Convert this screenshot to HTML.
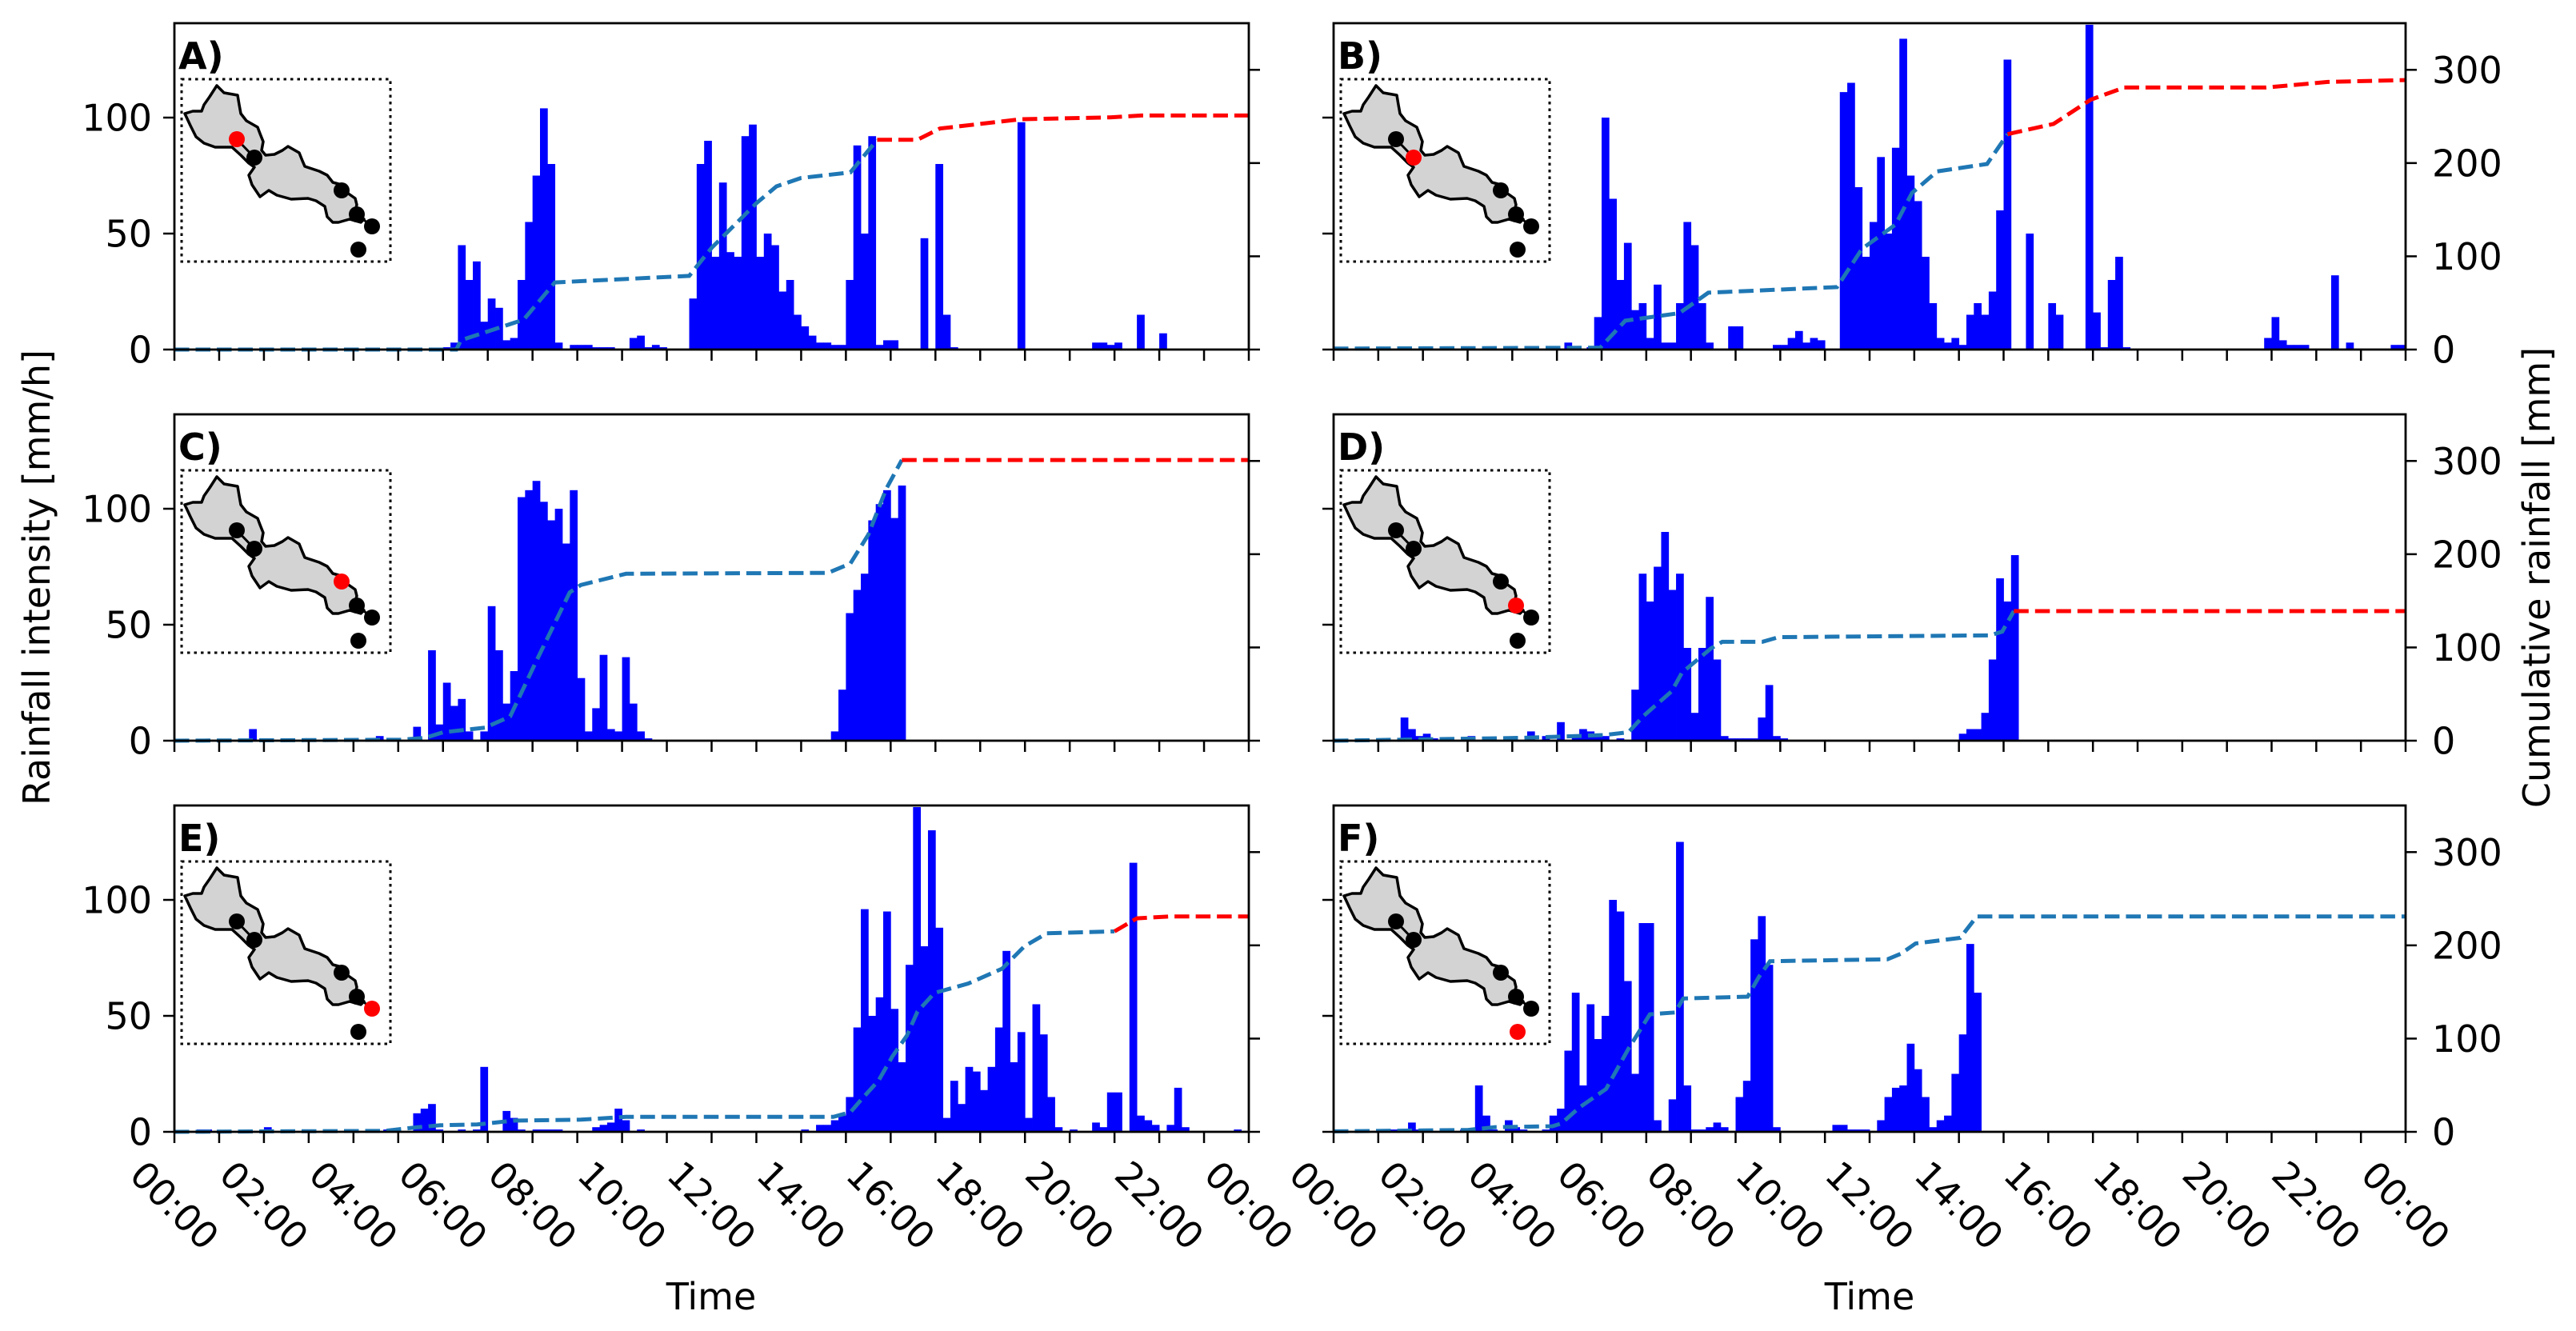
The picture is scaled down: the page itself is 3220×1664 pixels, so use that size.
<!DOCTYPE html>
<html><head><meta charset="utf-8"><title>Rainfall panels</title>
<style>
html,body{margin:0;padding:0;background:#fff;}
svg{display:block;font-family:"DejaVu Sans","Liberation Sans",sans-serif;}
</style></head>
<body>
<svg id="fig" xmlns="http://www.w3.org/2000/svg" width="3220" height="1664" viewBox="0 0 3220 1664">
<rect x="0" y="0" width="3220" height="1664" fill="#fff"/>
<text x="0" y="0" font-size="46" text-anchor="middle" transform="translate(62,722) rotate(-90)">Rainfall intensity [mm/h]</text>
<text x="0" y="0" font-size="46" text-anchor="middle" transform="translate(3187,722) rotate(-90)">Cumulative rainfall [mm]</text>
<text x="889" y="1637" font-size="46" text-anchor="middle">Time</text>
<text x="2337" y="1637" font-size="46" text-anchor="middle">Time</text>
</svg>
<script>
// ---- data: 10-minute rainfall intensity bins (mm/h), 144 per panel ----
const barsA = [
0,0,0,0,0,0, 0,0,0,0,0,0, 0,0,0,0,0,0, 0,0,0,0,0,0, 0,0,0,0,0,0, 0,0,0,0,0,0,
1,3,45,30,38,12, 22,18,4,5,30,55, 75,104,80,3,0,2, 2,2,1,1,1,0, 0,5,6,1,2,1, 0,0,0,22,80,90,
40,72,42,40,92,97, 40,50,45,25,30,15, 10,6,3,3,2,2, 30,88,50,92,2,4, 4,0,0,0,48,0, 80,15,1,0,0,0,
0,0,0,0,0,98, 0,0,0,0,0,0, 0,0,0,3,3,2, 3,0,0,15,0,0, 7,0,0,0,0,0, 0,0,0,0,0,0];
const barsB = [
0,0,0,0,0,0, 0,0,0,0,0,0, 0,0,0,0,0,0, 0,0,0,0,0,0, 0,0,0,0,0,0, 0,3,0,0,1,14,
100,65,30,46,17,20, 5,28,3,3,20,55, 45,20,3,0,0,10, 10,0,0,0,0,2, 2,5,8,3,5,4, 0,0,111,115,70,40,
55,83,50,87,134,75, 64,40,20,5,3,5, 2,15,20,15,25,60, 125,0,0,50,0,0, 20,15,0,0,0,140, 16,1,30,40,1,0,
0,0,0,0,0,0, 0,0,0,0,0,0, 0,0,0,0,0,5, 14,4,2,2,2,0, 0,0,32,0,3,0, 0,0,0,0,2,2];
const barsC = [
0,0,0,0,0,0, 0,0,0,0,5,0, 0,0,0,0,0,0, 0,0,0,0,0,0, 0,0,0,2,0,0, 0,0,6,0,39,7,
25,15,18,4,0,4, 58,39,16,30,105,108, 112,103,95,100,85,108, 27,4,14,37,5,4, 36,16,4,1,0,0, 0,0,0,0,0,0,
0,0,0,0,0,0, 0,0,0,0,0,0, 0,0,0,0,4,22, 55,65,72,95,102,108, 96,110,0,0,0,0, 0,0,0,0,0,0,
0,0,0,0,0,0, 0,0,0,0,0,0, 0,0,0,0,0,0, 0,0,0,0,0,0, 0,0,0,0,0,0, 0,0,0,0,0,0];
const barsD = [
0,0,0,0,0,0, 0,0,0,10,5,2, 3,1,0,0,0,0, 2,0,0,0,0,0, 0,0,4,0,2,0, 8,0,2,5,4,3,
2,0,1,0,22,72, 60,75,90,65,72,40, 12,40,62,35,2,1, 1,1,1,10,24,2, 1,0,0,0,0,0, 0,0,0,0,0,0,
0,0,0,0,0,0, 0,0,0,0,0,0, 3,5,5,12,35,70, 60,80,0,0,0,0, 0,0,0,0,0,0, 0,0,0,0,0,0,
0,0,0,0,0,0, 0,0,0,0,0,0, 0,0,0,0,0,0, 0,0,0,0,0,0, 0,0,0,0,0,0, 0,0,0,0,0,0];
const barsE = [
0,0,0,1,1,0, 0,0,0,0,0,0, 2,0,0,0,0,0, 0,0,0,0,0,0, 0,0,0,0,1,1, 0,0,8,10,12,1,
0,0,1,0,1,28, 0,0,9,6,1,0, 1,1,1,1,0,0, 0,0,2,3,4,10, 5,0,1,0,0,0, 0,0,0,0,0,0,
0,0,0,0,0,0, 0,0,0,0,0,0, 1,0,3,3,5,7, 15,45,96,50,58,95, 53,30,72,140,80,130, 88,6,22,12,28,26,
18,28,45,78,30,43, 6,55,42,15,2,0, 1,0,0,4,2,17, 17,0,116,7,5,3, 0,3,19,2,0,0, 0,0,0,0,1,0];
const barsF = [
1,0,0,0,0,0, 0,1,1,1,4,1, 0,0,0,0,0,1, 0,20,7,1,0,5, 2,1,0,0,1,7, 10,35,60,20,55,40,
50,100,95,65,25,90, 90,5,0,14,125,20, 1,1,2,4,2,0, 15,22,83,93,72,2, 0,0,0,0,0,0, 0,3,3,1,1,1,
0,5,15,19,20,38, 27,15,2,5,7,25, 42,81,60,0,0,0, 0,0,0,0,0,0, 0,0,0,0,0,0, 0,0,0,0,0,0,
0,0,0,0,0,0, 0,0,0,0,0,0, 0,0,0,0,0,0, 0,0,0,0,0,0, 0,0,0,0,0,0, 0,0,0,0,0,0];

// ---- cumulative rainfall (hour, mm) ----
const cumTA = [0,6.3,6.4,7.8,8.5,11.5,12.0,13.0,13.45,14.0,15.1,15.7,16.6,17.1,18.9,20.9,21.6,24];
const cumVA = [0,0,10,32,72,79,109,157,175,184,190,225,225,237,247,249,251,251];
const cumTB = [0,5.97,6.53,7.74,8.39,11.27,11.83,12.58,12.95,13.51,14.63,15.09,16.12,16.95,17.7,20.87,22.26,24];
const cumVB = [1,2,31,39,61,67,108,134,168,191,199,231,242,268,281,281,287,289];
const cumTC = [0,5.06,5.6,6.0,6.94,7.5,8.07,8.83,9.08,10.09,14.6,15.1,15.5,15.9,16.25,24];
const cumVC = [0,1,3,9,14,26,84,159,167,179,180,190,221,270,301,301];
const cumTD = [0,4.2,6.05,6.6,6.95,7.57,7.8,8.45,8.7,9.6,9.96,14.7,14.97,15.23,24];
const cumVD = [0,3,6,9,27,53,73,99,106,106,111,113,117,139,139];
const cumTE = [0,4.7,5.44,5.94,6.76,7.0,7.57,9.08,10.08,14.72,15.1,15.35,15.73,16.04,16.36,16.6,16.98,17.73,18.49,18.99,19.49,21.0,21.5,22.25,24];
const cumVE = [0,1,5,7,8,9,12,13,16,16,21,35,55,81,103,129,149,159,175,199,213,215,229,231,231];
const cumTF = [0,3,3.6,4.9,5.1,5.5,6.1,6.6,7.08,7.64,7.83,9.27,9.52,9.77,12.4,12.7,13.03,14.03,14.4,24];
const cumVF = [0.5,2,5,6,9,26,46,89,126,128,143,145,166,183,185,191,202,208,231,231];
const redFrom = [15.7, 15.09, 16.25, 15.23, 21.0, 99];
const redStation = [0,1,2,3,4,5];
const panelLetters = ['A)','B)','C)','D)','E)','F)'];
const leftTicks = [0,50,100];
const rightTicks = [0,100,200,300];
const hourTicks = [0,1,2,3,4,5,6,7,8,9,10,11,12,13,14,15,16,17,18,19,20,21,22,23,24];
const timeLabels = ['00:00','02:00','04:00','06:00','08:00','10:00','12:00','14:00','16:00','18:00','20:00','22:00','00:00'];

const allBars = [barsA,barsB,barsC,barsD,barsE,barsF];
const allCumT = [cumTA,cumTB,cumTC,cumTD,cumTE,cumTF];
const allCumV = [cumVA,cumVB,cumVC,cumVD,cumVE,cumVF];

// layout
const colX = [[218,1561],[1667,3007]];
const rowY = [29,518,1007];
const H = 408, YMAXL = 140.7, YMAXR = 350;
const NS = 'http://www.w3.org/2000/svg';
const svg = document.getElementById('fig');
function mk(tag, attrs, parent){
  const e = document.createElementNS(NS, tag);
  for (const k in attrs) e.setAttribute(k, attrs[k]);
  (parent||svg).appendChild(e);
  return e;
}
// inset geometry (relative to inset box)
const basin = [[44,8],[53,17],[70,20],[72,32],[74,43],[81,52],[95,60],[98,68],[102,78],[100,89],[105,95],[116,94],[126,89],[133,84],[147,92],[151,102],[154,109],[172,115],[182,120],[189,129],[200,132],[207,142],[217,149],[219,157],[217,165],[228,175],[224,179],[210,175],[196,179],[189,179],[182,172],[179,159],[168,152],[158,149],[137,150],[119,145],[109,139],[98,147],[88,132],[84,120],[91,110],[84,105],[74,95],[63,85],[42,85],[28,80],[18,72],[11,58],[4,43],[14,40],[25,40],[28,32],[35,22]];
const stations = [[69,75],[91,98],[200,139],[219,169],[238,184],[221,213]];

for (let p=0;p<6;p++){
  const col = p%2, row = Math.floor(p/2);
  const x0 = colX[col][0], x1 = colX[col][1];
  const top = rowY[row], bot = top + H;
  const xs = h => x0 + h/24*(x1-x0);
  const yL = v => bot - v/YMAXL*H;
  const yR = v => bot - v/YMAXR*H;
  const g = mk('g', {});
  
  
  const cid = 'clip'+p;
  const cp = mk('clipPath', {id:cid}, g);
  mk('rect', {x:x0, y:top, width:x1-x0, height:H}, cp);
  // bars
  const bg = mk('g', {'clip-path':'url(#'+cid+')'}, g);
  const bars = allBars[p];
  for (let i=0;i<bars.length;i++){
    if (bars[i] <= 0) continue;
    const xa = xs(i/6), xb = xs((i+1)/6);
    const r = mk('rect', {x:xa, y:yL(bars[i]), width:(xb-xa)+0.4, height:bot-yL(bars[i]), fill:'#0000ff'}, bg);
    
    
  }
  // cumulative line
  const T = allCumT[p], V = allCumV[p], sp = redFrom[p];
  let blue = [], red = [];
  for (let i=0;i<T.length;i++){
    const pt = xs(T[i]).toFixed(1)+','+yR(V[i]).toFixed(1);
    if (T[i] <= sp) blue.push(pt);
    if (T[i] >= sp) red.push(pt);
  }
  const bl = mk('polyline', {points:blue.join(' '), fill:'none', stroke:'#1f77b4', 'stroke-width':5, 'stroke-dasharray':'18.5 8'}, g);
  
  
  if (red.length>1){
    const rl = mk('polyline', {points:red.join(' '), fill:'none', stroke:'#ff0000', 'stroke-width':5, 'stroke-dasharray':'18.5 8'}, g);
    
    
  }
  // spines
  const sp_ = mk('rect', {x:x0, y:top, width:x1-x0, height:H, fill:'none', stroke:'#000', 'stroke-width':2.8}, g);
  
  
  // x ticks
  for (const h of hourTicks){
    const t = mk('line', {x1:xs(h), x2:xs(h), y1:bot, y2:bot+14, stroke:'#000', 'stroke-width':2.5}, g);
    
    
  }
  if (row===2){
    for (let k=0;k<timeLabels.length;k++){
      const tx = mk('text', {x:0, y:0, 'font-size':46, 'text-anchor':'middle', 'dominant-baseline':'central', transform:'translate('+xs(k*2).toFixed(1)+',1507) rotate(45)'}, g);
      
      
      tx.textContent = timeLabels[k];
    }
  }
  // left ticks
  for (const v of leftTicks){
    const t = mk('line', {x1:x0-14, x2:x0, y1:yL(v), y2:yL(v), stroke:'#000', 'stroke-width':2.5}, g);
    
    
    if (col===0){
      const tx = mk('text', {x:x0-28, y:yL(v)+16.5, 'font-size':46, 'text-anchor':'end'}, g);
      
      
      tx.textContent = v;
    }
  }
  // right ticks
  for (const v of rightTicks){
    const t = mk('line', {x1:x1, x2:x1+14, y1:yR(v), y2:yR(v), stroke:'#000', 'stroke-width':2.5}, g);
    
    
    if (col===1){
      const tx = mk('text', {x:x1+33, y:yR(v)+16.5, 'font-size':46, 'text-anchor':'start'}, g);
      
      
      tx.textContent = v;
    }
  }
  // panel letter
  const pl = mk('text', {x:x0+5, y:top+57, 'font-size':46, 'font-weight':'bold'}, g);
  
  
  pl.textContent = panelLetters[p];
  // inset map
  const ix = x0+9, iy = top+70;
  const ig = mk('g', {transform:'translate('+ix+','+iy+')'}, g);
  
  
  mk('rect', {x:0, y:0, width:261, height:228, fill:'none', stroke:'#000', 'stroke-width':3, 'stroke-dasharray':'3.5 5'}, ig);
  const poly = mk('polygon', {points:basin.map(q=>q.join(',')).join(' '), fill:'#d3d3d3', stroke:'#000', 'stroke-width':3.5, 'stroke-linejoin':'round'}, ig);
  
  
  mk('line', {x1:69, y1:75, x2:91, y2:98, stroke:'#000', 'stroke-width':3}, ig);
  mk('line', {x1:219, y1:169, x2:238, y2:184, stroke:'#000', 'stroke-width':3}, ig);
  for (let s=0;s<stations.length;s++){
    const c = mk('circle', {cx:stations[s][0], cy:stations[s][1], r:10, fill: s===redStation[p] ? '#ff0000' : '#000'}, ig);
    
    
  }
}
</script>
</body></html>
